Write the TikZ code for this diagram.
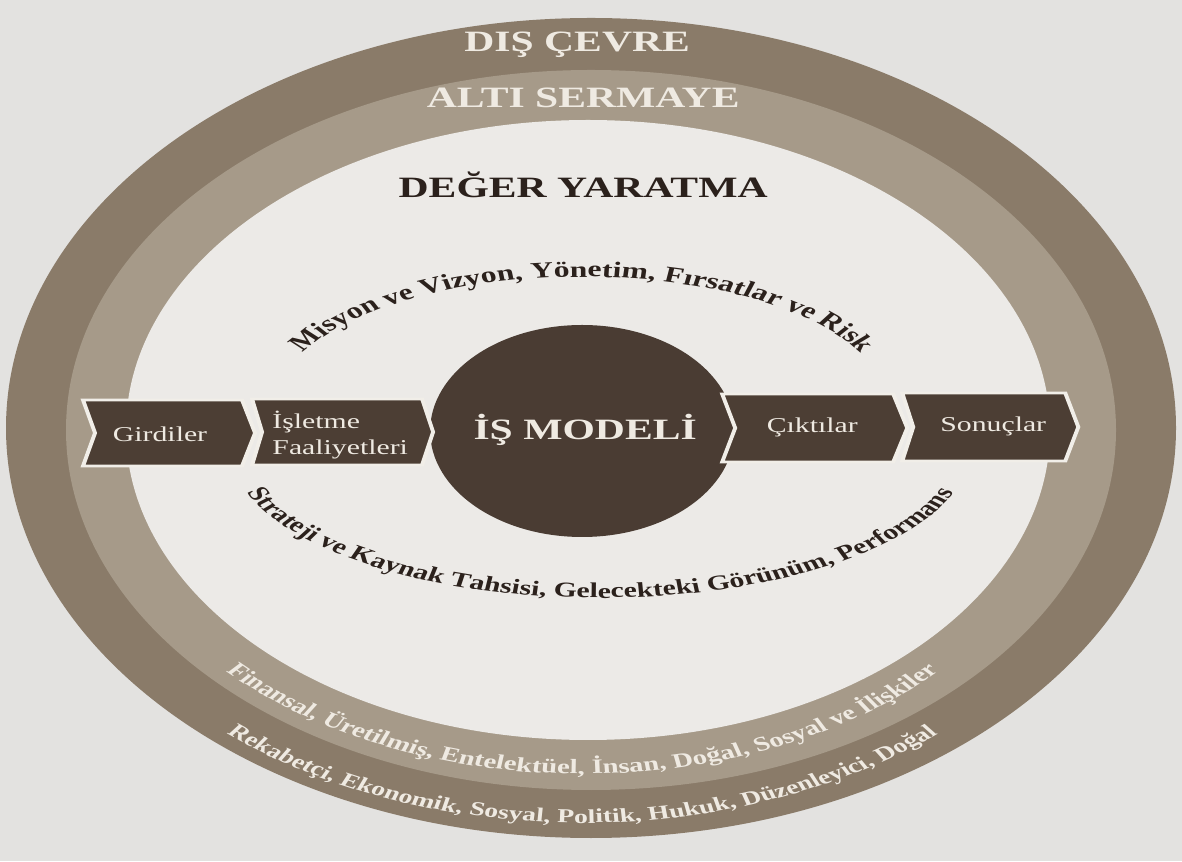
\documentclass[tikz,border=0pt]{standalone}
\usepackage{fontspec}
\setmainfont{Liberation Serif}
\usetikzlibrary{calc,decorations.text}

\definecolor{paper}{HTML}{E3E2E0}
\definecolor{outerring}{HTML}{8A7B69}
\definecolor{midring}{HTML}{A69A89}
\definecolor{innerfield}{HTML}{ECEAE7}
\definecolor{modelbrown}{HTML}{4A3C33}
\definecolor{arrowbrown}{HTML}{4C3E34}
\definecolor{rimwhite}{HTML}{F1EEE8}
\definecolor{darktext}{HTML}{2B211C}
\definecolor{lighttext}{HTML}{EFEAE2}

\tikzset{
  chevron/.style={fill=arrowbrown, draw=rimwhite, line width=2pt, line join=miter},
  arrowlabel/.style={text=lighttext, inner sep=0pt, font=\fontsize{15}{18}\selectfont},
  heading/.style={inner sep=0pt, font=\bfseries\fontsize{21}{25}\selectfont},
}

\begin{document}
\begin{tikzpicture}[x=0.025cm, y=0.025cm]
	\useasboundingbox (0,0) rectangle (1182,861);
	\fill [paper] (0,0) rectangle (1182,861);

	% three rings
	\fill [outerring] (591,433) ellipse [x radius=585, y radius=410];
	\fill [midring] (591,431) ellipse [x radius=525, y radius=360];
	\fill [innerfield] (588,431) ellipse [x radius=462, y radius=310];

	\begin{scope}[x=0.01773cm, transform canvas={xscale=1.41}]
		\coordinate (core) at (582,430);
		\coordinate (topc) at (582,456);
		\coordinate (botc) at (600,413);
		\fill [modelbrown] (core) ellipse [x radius=152, y radius=106];

		% chevrons
		\draw [chevron] (83,461) -- (242,461) -- (255,428) -- (242,395) -- (83,395) -- (95,428) -- cycle;
		\draw [chevron] (252,462) -- (422,462) -- (433,429) -- (422,396) -- (252,396) -- (262,429) -- cycle;
		\draw [chevron] (722,467) -- (893,467) -- (907,433) -- (893,399) -- (722,399) -- (735,433) -- cycle;
		\draw [chevron] (902,468) -- (1065,468) -- (1078,434) -- (1065,400) -- (902,400) -- (913,434) -- cycle;

		\node [arrowlabel, anchor=base] (girdiler) at (160,419) {Girdiler};
		\node [arrowlabel, anchor=west, align=left] (isletme) at (272,426) {İşletme\\Faaliyetleri};
		\node [arrowlabel, anchor=base] (ciktilar) at (812,428) {Çıktılar};
		\node [arrowlabel, anchor=base] (sonuclar) at (993,429) {Sonuçlar};

		\node [heading, text=lighttext, anchor=base] (model) at (585,421) {İŞ MODELİ};
		\node [heading, text=darktext, anchor=base] (deger) at (583,663) {DEĞER YARATMA};
		\node [heading, text=lighttext, anchor=base] (disc) at (577,809) {DIŞ ÇEVRE};
		\node [heading, text=lighttext, anchor=base] (sermaye) at (583,753) {ALTI SERMAYE};

		% curved labels
		\path [decorate, decoration={text along path, text align=center, text color=darktext,
			text={|\bfseries\fontsize{16}{19}\selectfont|Misyon ve Vizyon, Yönetim, Fırsatlar ve Risk}}]
			($(topc)+(178:305 and 128)$) arc [start angle=178, end angle=2, x radius=305, y radius=128];
		\path [decorate, decoration={text along path, text align=center, text color=darktext,
			text={|\bfseries\fontsize{15}{18}\selectfont|Strateji ve Kaynak Tahsisi, Gelecekteki Görünüm, Performans}}]
			($(botc)+(182:370 and 150)$) arc [start angle=182, end angle=358, x radius=370, y radius=150];
		\path [decorate, decoration={text along path, text align=center, text color=lighttext,
			text={|\bfseries\fontsize{14.5}{17}\selectfont|Finansal, Üretilmiş, Entelektüel, İnsan, Doğal, Sosyal ve İlişkiler}}]
			($(core)+(185:500 and 343)$) arc [start angle=185, end angle=355, x radius=500, y radius=343];
		\path [decorate, decoration={text along path, text align=center, text color=lighttext,
			text={|\bfseries\fontsize{14}{17}\selectfont|Rekabetçi, Ekonomik, Sosyal, Politik, Hukuk, Düzenleyici, Doğal}}]
			($(core)+(185:560 and 392)$) arc [start angle=185, end angle=355, x radius=560, y radius=392];
	\end{scope}
\end{tikzpicture}
\end{document}
